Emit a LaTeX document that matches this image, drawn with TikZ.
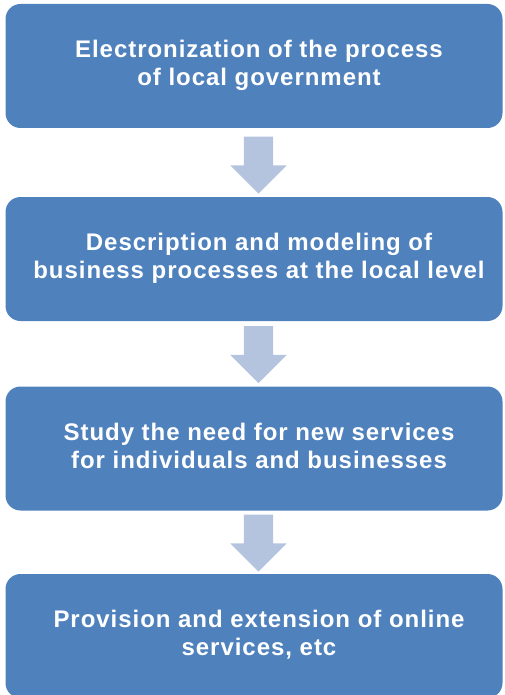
\documentclass[tikz,border=0pt]{standalone}
\usepackage{fontspec}
\setmainfont{Liberation Sans}[LetterSpace=4]
\usetikzlibrary{shapes.arrows, positioning, calc}
\definecolor{boxblue}{HTML}{4F81BD}
\definecolor{arrowblue}{HTML}{B4C4DF}
% testo centrato un po' a destra e in basso nel blocco
\newcommand{\steptext}[1]{\raisebox{-2pt}{\begin{tabular}{@{\hspace{10pt}}c@{}}#1\end{tabular}}}

\begin{document}
\begin{tikzpicture}[x=1pt, y=-1pt,
    stepbox/.style={fill=boxblue, rounded corners=15pt, minimum width=497pt,
        minimum height=124pt, text=white, inner sep=0pt,
        font=\fontsize{24}{28}\selectfont\bfseries},
    downarrow/.style={single arrow, fill=arrowblue, rotate=-90, anchor=tip,
        minimum height=57pt, inner xsep=0pt, inner ysep=14.5pt,
        single arrow head extend=13.5pt, single arrow tip angle=90}]
        \clip (0,0) rectangle (505,695);
        \useasboundingbox (0,0) rectangle (505,695);
        %blocchi
        \node[stepbox] (b1) at (254,66) {\steptext{Electronization of the process\\of local government}};
        \node[stepbox] (b2) at (254,259) {\steptext{Description and modeling of\\business processes at the local level}};
        \node[stepbox] (b3) at (254,448.5) {\steptext{Study the need for new services\\for individuals and businesses}};
        \node[stepbox] (b4) at (254,636) {\steptext{Provision and extension of online\\services, etc}};
        %frecce
        \node[downarrow] (a1) at ($(b2.north)+(4.5,-3)$) {};
        \node[downarrow] (a2) at ($(b3.north)+(4.5,-3)$) {};
        \node[downarrow] (a3) at ($(b4.north)+(4.5,-2)$) {};
\end{tikzpicture}
\end{document}
